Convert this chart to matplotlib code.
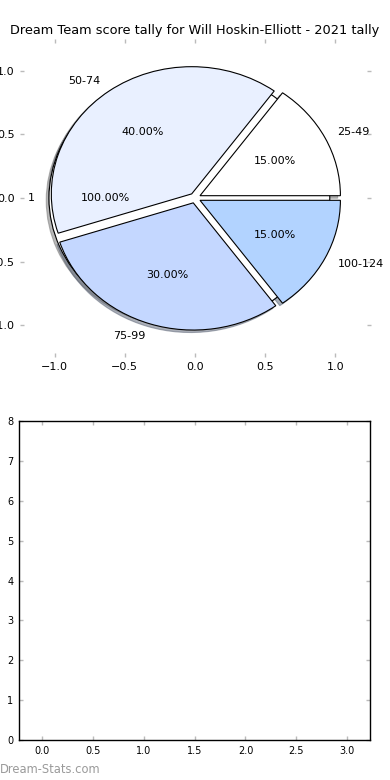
import numpy as np
import matplotlib
matplotlib.use("Agg")
import matplotlib.pyplot as plt

# score bands and how many games fell in each
bands = ['25-49', '50-74', '75-99', '100-124']
counts = [3, 8, 6, 3]
band_colors = ['#ffffff', '#e9f0ff', '#c4d7ff', '#b2d3ff']
title = 'Dream Team score tally for Will Hoskin-Elliott - 2021 tally'

pie_ticks = [-1.0, -0.5, 0.0, 0.5, 1.0]
bar_xticks = [0.0, 0.5, 1.0, 1.5, 2.0, 2.5, 3.0]
bar_yticks = [0, 1, 2, 3, 4, 5, 6, 7, 8]

tick_grey = '#bbbbbb'
shadow = {'ox': -0.014, 'oy': -0.014, 'shade': 0.55}

fig = plt.figure(figsize=(3.9, 7.8), dpi=100)

# top: the pie
ax1 = fig.add_axes([0.05, 0.5423, 0.9, 0.4077])
ax1.pie([1], labels=['1'], colors=['white'], autopct='%1.2f%%',
        explode=[0.04], startangle=0, shadow=shadow,
        wedgeprops=dict(edgecolor='black', linewidth=0.8),
        textprops=dict(fontsize=8))
ax1.pie(counts, labels=bands, colors=band_colors, autopct='%1.2f%%',
        explode=[0.04] * len(counts), startangle=0, shadow=shadow,
        wedgeprops=dict(edgecolor='black', linewidth=0.8),
        textprops=dict(fontsize=8))
ax1.set_frame_on(False)
ax1.set_aspect('auto')
ax1.set_xlim(-1.25, 1.25)
ax1.set_ylim(-1.25, 1.25)
ax1.set_xticks(pie_ticks)
ax1.set_yticks(pie_ticks)
ax1.tick_params(direction='in', color=tick_grey, length=3, width=1,
                top=True, right=True, labelsize=8, pad=3.5)
ax1.set_title(title, fontsize=9.3, pad=3.5)

# bottom: empty bar panel
ax2 = fig.add_axes([0.049, 0.0513, 0.9, 0.4087])
ax2.set_xlim(-0.225, 3.225)
ax2.set_ylim(0, 8)
ax2.set_xticks(bar_xticks)
ax2.set_yticks(bar_yticks)
ax2.tick_params(direction='in', color=tick_grey, length=3, width=1,
                top=True, right=True, labelsize=7, pad=4)
for s in ax2.spines.values():
    s.set_linewidth(1.0)

fig.text(0.0, 0.013, 'Dream-Stats.com', color='#9a9a9a', fontsize=8.3,
         ha='left', va='center')

plt.savefig('out.png', dpi=100)
